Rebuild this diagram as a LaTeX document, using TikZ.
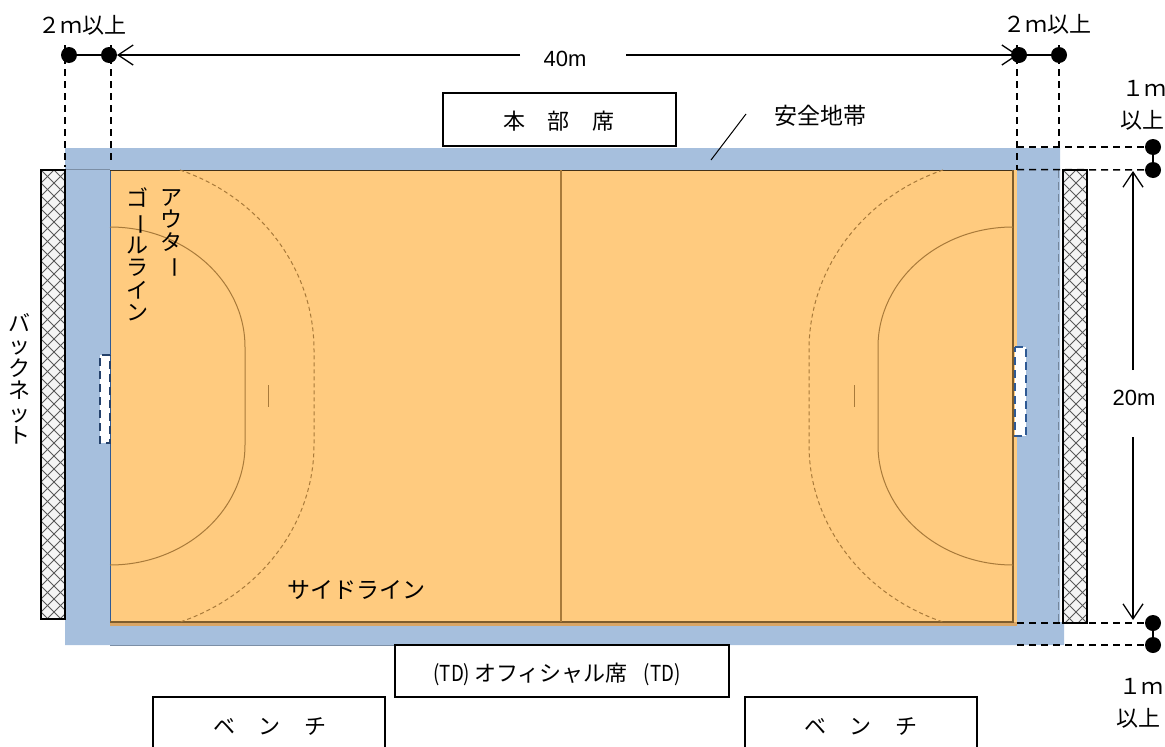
\documentclass[tikz,border=0pt]{standalone}
\usepackage{fontspec}
\usetikzlibrary{arrows.meta}
\setmainfont{Noto Sans CJK JP}
\newfontfamily\latinf{Liberation Sans}
\definecolor{bandblue}{HTML}{A6BFDD}
\definecolor{courtor}{HTML}{FFCB7F}
\definecolor{courtdk}{HTML}{D9A565}
\definecolor{brownl}{HTML}{A87A3A}
\definecolor{goalblue}{HTML}{2F5A94}
\definecolor{goaldark}{HTML}{24416B}
\tikzset{
  x=1pt,y=-1pt,
  lbl/.style={font=\fontsize{22}{24}\selectfont,inner sep=0pt,text=black},
  biglbl/.style={font=\fontsize{23}{25}\selectfont,inner sep=0pt,text=black},
  vlbl/.style={inner sep=0pt,text=black,align=center,font=\fontsize{22}{22.5}\selectfont},
  numlbl/.style={font=\fontsize{22}{24}\selectfont\latinf,inner sep=0pt},
  seatbox/.style={draw=black,line width=1.3pt,fill=white},
  dot/.style={circle,fill=black,draw=none,minimum size=16pt,inner sep=0pt},
  dimln/.style={line width=1.5pt,black},
  dimarr/.style={dimln,-{Straight Barb[length=15pt,width=20pt,line width=1.3pt]}},
  dashln/.style={line width=1.5pt,black,dash pattern=on 7pt off 5pt},
  courtln/.style={brownl,line width=1pt},
  courtds/.style={brownl,line width=1pt,dash pattern=on 4pt off 3pt},
  goalbox/.style={draw=goalblue,line width=1.8pt,dash pattern=on 8pt off 5pt},
  netbox/.style={draw=black,line width=1.4pt}
}
\newcommand{\netfill}[4]{%
  \begin{scope}
    \clip (#1,#2) rectangle (#3,#4);
    \fill[white!96!black] (#1,#2) rectangle (#3,#4);
    \foreach \k in {-40,...,40}{
      \draw[black!65,line width=1pt] ({#1+\k*13},#2) -- ++(480,480);
      \draw[black!65,line width=1pt] ({#1+\k*13},#2) -- ++(-480,480);
    }
  \end{scope}
  \draw[netbox] (#1,#2) rectangle (#3,#4);
}
\newcommand{\narrowTD}{\scalebox{.85}[1]{(TD)}}
\begin{document}
\begin{tikzpicture}
\useasboundingbox (0,0) rectangle (1165,747);
% safety band
\fill[bandblue] (65,148) -- (1060,148) -- (1060,622) -- (1064,622) -- (1064,645) -- (65,645) -- cycle;
\draw[bandblue!75!black,line width=.5pt] (65,169.5) -- (110,169.5);
\draw[bandblue!75!black,line width=.5pt] (110,645) -- (730,645);
% court
\fill[courtdk] (110,622) rectangle (1017,626);
\fill[courtor] (110,170) rectangle (1017,622);
\draw[goalblue,line width=.8pt] (110,170) -- (110,622);
\draw[black!60!brownl,line width=.8pt] (110,170.5) -- (1013,170.5);
\draw[black!25!brownl,line width=1.4pt] (110,622) -- (1013,622) -- (1013,170);
\draw[brownl,line width=1.4pt] (561,170) -- (561,622);
% goal areas
\draw[courtln] (110,227) .. controls (184.5,227) and (245,280.8) .. (245,347) -- (245,445)
  .. controls (245,511) and (184.5,565) .. (110,565);
\draw[courtds] (180,170) .. controls (260.5,197.6) and (314,269) .. (314,350) -- (314,445)
  .. controls (314,523.5) and (260.5,595) .. (180,622);
\draw[courtln] (1013,227) .. controls (938.5,227) and (878,280.8) .. (878,347) -- (878,445)
  .. controls (878,511) and (938.5,565) .. (1013,565);
\draw[courtds] (943,170) .. controls (862.5,197.6) and (809,269) .. (809,350) -- (809,445)
  .. controls (809,523.5) and (862.5,595) .. (943,622);
\draw[courtln] (268,385) -- (268,407);
\draw[courtln] (854,385) -- (854,407);
% goals
\fill[white] (100,355) rectangle (110,443);
\draw[goalbox,draw=goaldark] (110,355) -- (100,355) -- (100,443) -- (110,443) -- (110,355);
\fill[white] (1015,347) rectangle (1026,436);
\draw[goalbox] (1015,347) -- (1026,347) -- (1026,436) -- (1015,436) -- cycle;
% nets
\netfill{41}{170}{65}{619}
\netfill{1063}{170}{1087}{623}
\draw[bandblue!70!black,line width=.8pt,dash pattern=on 8pt off 4pt] (1058,170) -- (1058,622);
% dots
\node[dot] (a1) at (69,55) {};
\node[dot] (a2) at (109,55) {};
\node[dot] (a3) at (1019,55) {};
\node[dot] (a4) at (1059,55) {};
\node[dot] (b1) at (1153,147) {};
\node[dot] (b2) at (1153,170) {};
\node[dot] (c1) at (1153,623) {};
\node[dot] (c2) at (1153,645) {};
% dash anchors
\coordinate (t1) at (65,45); \coordinate (t1e) at (65,167);
\coordinate (t2) at (111,45); \coordinate (t2e) at (111,162);
\coordinate (t3) at (1017,45); \coordinate (t3e) at (1017,170);
\coordinate (t4) at (1059,45); \coordinate (t4e) at (1059,148);
\coordinate (h1) at (1017,147); \coordinate (h2) at (1017,169.5);
\coordinate (h3) at (1017,623); \coordinate (h4) at (1017,645);
\draw[dashln] (t1) -- (t1e);
\draw[dashln] (t2) -- (t2e);
\draw[dashln] (t3) -- (t3e);
\draw[dashln] (t4) -- (t4e);
\draw[dashln] (h1) -- (b1.center);
\draw[dashln] (h2) -- (b2.center);
\draw[dashln] (h3) -- (c1.center);
\draw[dashln] (h4) -- (c2.center);
% dimension segments
\draw[dimln] (a1) -- (a2);
\draw[dimln] (a3) -- (a4);
\draw[dimln] (b1) -- (b2);
\draw[dimln] (c1) -- (c2);
\coordinate (g1) at (520,55); \coordinate (g2) at (626,55);
\coordinate (g3) at (1133,370); \coordinate (g4) at (1133,437);
\coordinate (g3t) at (1133,171); \coordinate (g4t) at (1133,620);
\coordinate (g1t) at (117,55); \coordinate (g2t) at (1018,55);
\draw[dimarr] (g1) -- (g1t);
\draw[dimarr] (g2) -- (g2t);
\draw[dimarr] (g3) -- (g3t);
\draw[dimarr] (g4) -- (g4t);
\coordinate (lead1) at (746,114); \coordinate (lead2) at (711,160);
\draw[line width=1pt,black] (lead1) -- (lead2);
% labels
\node[numlbl] (n40) at (565,59) {40m};
\node[numlbl] (n20) at (1134,398) {20m};
\node[lbl] (n2a) at (82,25) {２ｍ以上};
\node[lbl] (n2b) at (1047,24) {２ｍ以上};
\node[lbl] (n1a) at (1144,88) {１ｍ};
\node[lbl] (n1b) at (1142,120) {以上};
\node[lbl] (n1c) at (1141,686) {１ｍ};
\node[lbl] (n1d) at (1138,718) {以上};
\node[biglbl] (safe) at (820,116) {安全地帯};
\node[biglbl] (side) at (356,590) {サイドライン};
\node[vlbl,anchor=north] (outer) at (171,189) {ア\\ウ\\タ\\\rotatebox[origin=c]{-90}{ー}};
\node[vlbl,anchor=north] (goalline) at (137,188) {ゴ\\\rotatebox[origin=c]{-90}{ー}\\ル\\ラ\\イ\\ン};
\node[vlbl,anchor=north] (backnet) at (20,313) {バ\\ッ\\ク\\ネ\\ッ\\ト};
% seats
\path[seatbox] (443,93) rectangle (676,146);
\node[lbl] (honbu) at (559,121) {本\hspace{23pt}部\hspace{23pt}席};
\path[seatbox] (395,645) rectangle (729,697);
\node[lbl] (td) at (557,674) {\narrowTD\hspace{4pt}オフィシャル席\hspace{16pt}\narrowTD};
\path[seatbox] (153,760) -- (153,697) -- (385,697) -- (385,760);
\node[lbl] (bl) at (270,726) {ベ\hspace{24pt}ン\hspace{24pt}チ};
\path[seatbox] (745,760) -- (745,697) -- (977,697) -- (977,760);
\node[lbl] (br) at (861,726) {ベ\hspace{24pt}ン\hspace{24pt}チ};
\end{tikzpicture}
\end{document}
